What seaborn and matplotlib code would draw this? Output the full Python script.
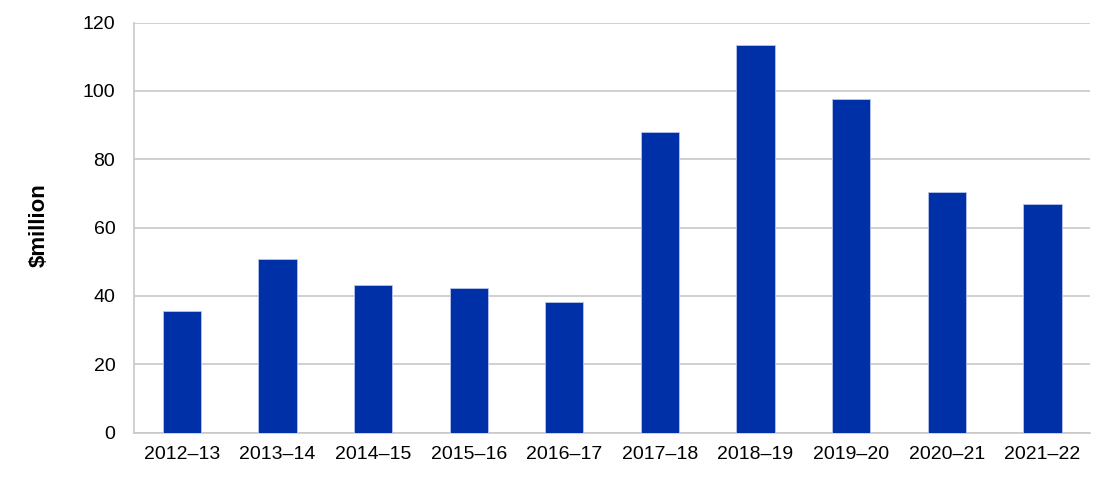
import numpy as np
import pandas as pd
import matplotlib
matplotlib.use("Agg")
import matplotlib.pyplot as plt
import seaborn as sns

# values ($ million)
years = ["2012–13", "2013–14", "2014–15", "2015–16", "2016–17",
         "2017–18", "2018–19", "2019–20", "2020–21", "2021–22"]
values = [35.6, 50.9, 43.2, 42.3, 38.2, 88.0, 113.4, 97.6, 70.4, 66.9]
y_ticks = [0, 20, 40, 60, 80, 100, 120]

sns.set_theme(style="white")
plt.rcParams['font.family'] = ['Liberation Sans', 'DejaVu Sans']

df = pd.DataFrame({"year": years, "value": values})

fig = plt.figure(figsize=(11.17, 4.8), dpi=100)
ax = fig.add_axes([0.12, 0.0985, 0.856, 0.8545])

sns.barplot(data=df, x="year", y="value", color="#0030A8", saturation=1,
            width=0.4, edgecolor="#b8c4ea", linewidth=0.6, ax=ax, zorder=3)

ax.set_ylim(0, 120)
ax.set_yticks(y_ticks)
ax.set_xlim(-0.5, len(years) - 0.5)
ax.yaxis.grid(True, color="#c8c8c8", linewidth=1.2, zorder=0)
ax.set_axisbelow(True)

for side in ["top", "right"]:
    ax.spines[side].set_visible(False)
for side in ["left", "bottom"]:
    ax.spines[side].set_color("#c8c8c8")
    ax.spines[side].set_linewidth(1.2)

ax.tick_params(axis="both", length=0, labelsize=14, colors="black")
ax.tick_params(axis="x", pad=9.5)
ax.tick_params(axis="y", pad=13.5)
ax.set_xlabel("")
ax.set_ylabel("$million", fontsize=16, fontweight="bold", color="black")
ax.yaxis.set_label_coords(-0.088, 0.505)

fig.savefig("out.png", dpi=100)
